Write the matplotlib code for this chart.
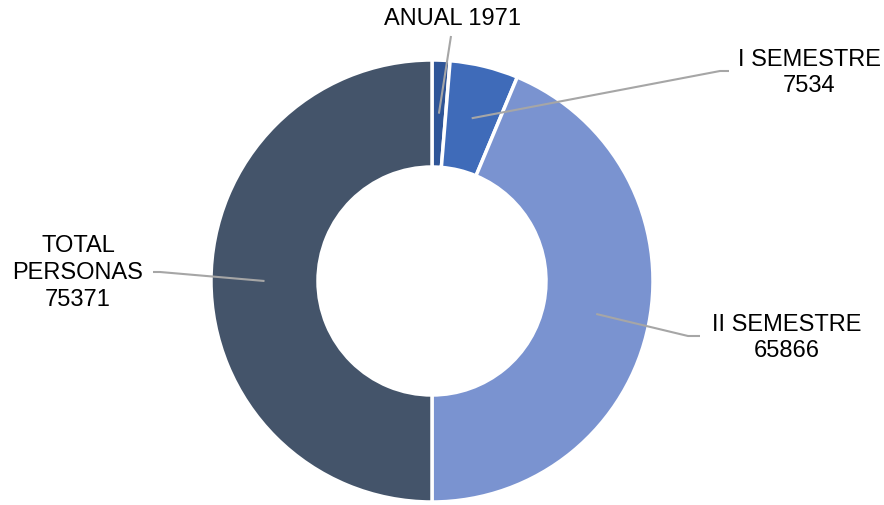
import matplotlib
matplotlib.use("Agg")
import matplotlib.pyplot as plt
import numpy as np

categories = ["ANUAL", "I SEMESTRE", "II SEMESTRE", "TOTAL\nPERSONAS"]
values = [1971, 7534, 65866, 75371]
colors = ["#2F5597", "#3F6BB9", "#7A93D0", "#44546A"]

plt.rcParams['font.family'] = ['Liberation Sans', 'DejaVu Sans']

W, H = 884, 506
fig = plt.figure(figsize=(W / 100, H / 100), dpi=100)
ax = fig.add_axes([0, 0, 1, 1])

cx, cy = 432, H - 282
R_out, R_in = 221, 114
wedges, _ = ax.pie(values, colors=colors, startangle=90, counterclock=False,
                   center=(cx, cy), radius=R_out, frame=True,
                   wedgeprops=dict(width=R_out - R_in, edgecolor='white', linewidth=2.5))
ax.set_xlim(0, W)
ax.set_ylim(0, H)
ax.set_aspect('equal')
ax.axis('off')

label_texts = [f"{c} {v}" if i == 0 else f"{c}\n{v}" for i, (c, v) in enumerate(zip(categories, values))]
text_pos = [(452, 19), (809, 73), (787, 338), (78, 273)]
elbow = [[(451, 37)], [(729, 72), (720, 72)], [(700, 337), (688, 337)], [(153, 273), (160, 273)]]

r_mid = (R_out + R_in) / 2
total = sum(values)
cum = 0
for i, v in enumerate(values):
    mid = (cum + v / 2) / total * 2 * np.pi
    cum += v
    px = cx + r_mid * np.sin(mid)
    py = cy + r_mid * np.cos(mid)
    pts = [(x, H - y) for x, y in elbow[i]] + [(px, py)]
    xs, ys = zip(*pts)
    ax.plot(xs, ys, color='#A6A6A6', lw=1.5, solid_capstyle='butt')
    tx, ty = text_pos[i]
    ax.text(tx, H - ty, label_texts[i], ha='center', va='center', fontsize=17,
            color='#000000', linespacing=1.27)

fig.savefig("out.png", dpi=100, facecolor='white')
